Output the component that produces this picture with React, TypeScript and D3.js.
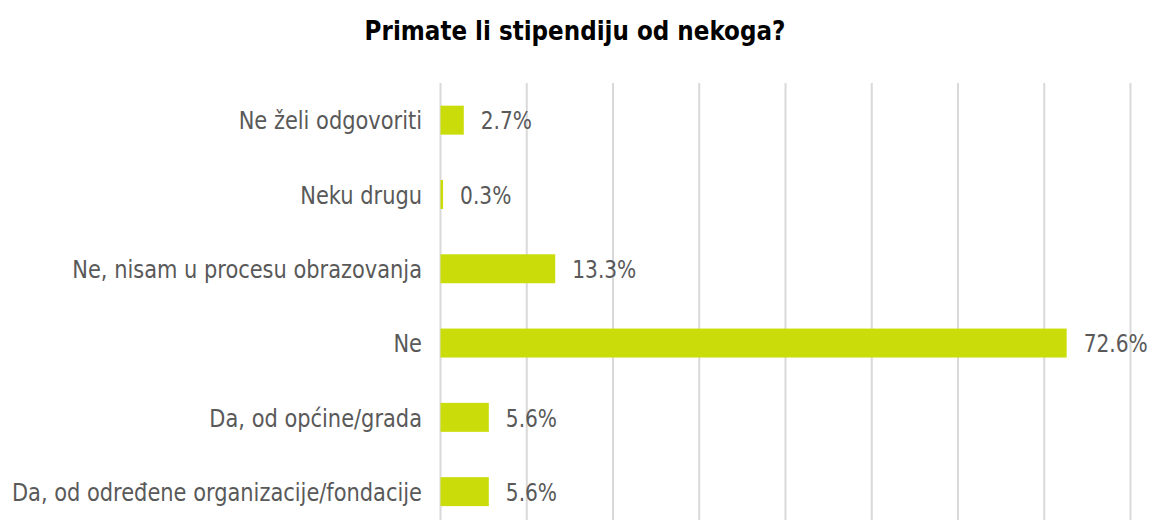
import React from "react";
import * as d3 from "d3";

const categories = [
  "Ne želi odgovoriti",
  "Neku drugu",
  "Ne, nisam u procesu obrazovanja",
  "Ne",
  "Da, od općine/grada",
  "Da, od određene organizacije/fondacije",
];
const values = [2.7, 0.3, 13.3, 72.6, 5.6, 5.6];
const gridTicks = [0, 10, 20, 30, 40, 50, 60, 70, 80];
const title = "Primate li stipendiju od nekoga?";

const W = 1149;
const H = 520;
const FONT = "'DejaVu Sans Condensed', sans-serif";

function NText(props: {
  x: number;
  y: number;
  anchor?: string;
  size: number;
  weight?: string;
  fill: string;
  sx: number;
  children: React.ReactNode;
}) {
  return (
    <g transform={`translate(${props.x},${props.y}) scale(${props.sx},1)`}>
      <text
        x={0}
        y={0}
        dy="0.36em"
        textAnchor={props.anchor || "start"}
        fontFamily={FONT}
        fontSize={props.size}
        fontWeight={props.weight || "normal"}
        fill={props.fill}
      >
        {props.children}
      </text>
    </g>
  );
}

export default function App() {
  const x = d3.scaleLinear().domain([0, 80]).range([440.5, 1130.5]);
  const y = d3
    .scaleBand<string>()
    .domain(categories)
    .range([83, 83 + 6 * 74.3])
    .paddingInner(0.61)
    .paddingOuter(0.305);
  return (
    <svg
      width={W}
      height={H}
      style={{ position: "absolute", left: 0, top: 0, background: "#fff" }}
    >
      <NText x={575} y={30} anchor="middle" size={27} weight="bold" fill="#000" sx={0.95}>
        {title}
      </NText>
      {gridTicks.map((t) => (
        <line
          key={t}
          x1={x(t)}
          x2={x(t)}
          y1={83}
          y2={H}
          stroke="#d9d9d9"
          strokeWidth={2}
        />
      ))}
      {categories.map((c, i) => {
        const yc = (y(c) as number) + y.bandwidth() / 2;
        return (
          <g key={c}>
            <rect
              x={x(0)}
              y={y(c)}
              width={x(values[i]) - x(0)}
              height={y.bandwidth()}
              fill="#cadd0a"
            />
            <NText x={422} y={yc} anchor="end" size={25.5} fill="#595959" sx={0.914}>
              {c}
            </NText>
            <NText x={x(values[i]) + 17} y={yc} size={25.5} fill="#595959" sx={0.88}>
              {values[i].toFixed(1)}%
            </NText>
          </g>
        );
      })}
    </svg>
  );
}
